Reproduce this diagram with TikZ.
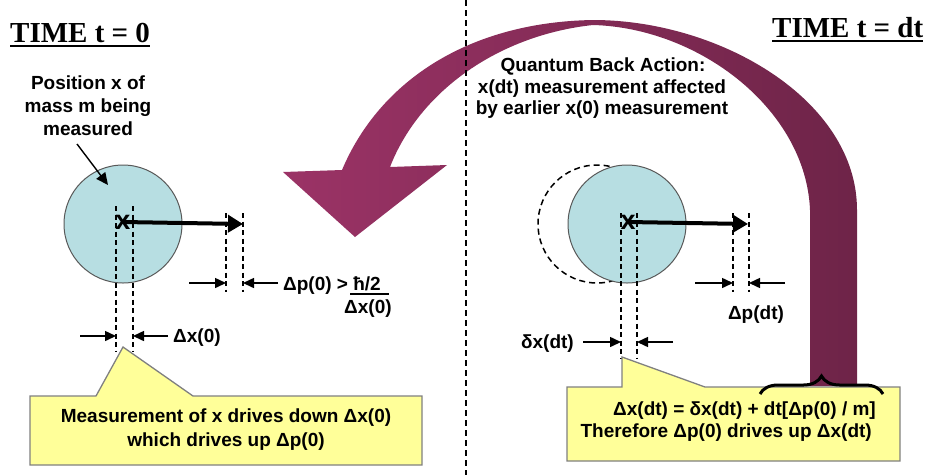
\documentclass[tikz,border=0pt]{standalone}
\usepackage{fontspec}
\setmainfont{Liberation Sans}
\newfontfamily\titlefont{Liberation Serif}
\usetikzlibrary{arrows.meta,decorations.pathreplacing,calc}
\definecolor{plumL}{HTML}{9B3366}
\definecolor{plumR}{HTML}{6E2448}
\definecolor{ballfill}{HTML}{B7DEE2}
\definecolor{noteyellow}{HTML}{FFFF99}
\begin{document}
\begin{tikzpicture}[x=1pt,y=-1pt,
  lbl/.style={font=\fontsize{19}{23}\selectfont\bfseries, inner sep=0pt},
  ttl/.style={font=\titlefont\fontsize{29}{34}\selectfont\bfseries, inner sep=0pt, anchor=base west},
  dashln/.style={dash pattern=on 5pt off 3.5pt, line width=1.5pt},
  dimarrow/.style={-{Triangle[length=11pt,width=10pt]}, line width=1.5pt},
  bigarrow/.style={-{Triangle[length=15pt,width=17pt]}, line width=4pt},
  ball/.style={circle, fill=ballfill, draw=gray!70!black, line width=1pt, minimum size=118pt, inner sep=0pt},
  ghost/.style={circle, draw, dash pattern=on 6pt off 4pt, line width=1.5pt, minimum size=118pt, inner sep=0pt},
  note/.style={fill=noteyellow, draw=gray, line width=1.3pt},
  bigx/.style={font=\fontsize{27}{27}\selectfont\bfseries, inner sep=0pt},
]
\useasboundingbox (0,0) rectangle (928,475);

% titles
\node[ttl] (t0) at (10,42) {TIME t = 0};
\draw[line width=2pt] ($(t0.base west)+(0,4)$) -- ($(t0.base east)+(0,4)$);
\node[ttl] (tdt) at (772,37) {TIME t = dt};
\draw[line width=2pt] ($(tdt.base west)+(0,4)$) -- ($(tdt.base east)+(0,4)$);

% big curved arrow
\shade[left color=plumL, right color=plumR]
 (810,386) -- (810,210) .. controls (806,110) and (700,28) .. (593,25)
 .. controls (500,35) and (420,90) .. (390,167)
 -- (447,165) -- (355,237) -- (283,172) -- (342,170)
 .. controls (380,80) and (470,22) .. (593,20)
 .. controls (720,20) and (857,100) .. (857,210) -- (857,386) -- cycle;

% divider
\draw[dash pattern=on 6pt off 4pt, line width=1.5pt] (466,0) -- (466,475);

% ---------- left: time 0 ----------
\node[lbl, anchor=base] (m1) at (88,89) {Position x of};
\node[lbl, anchor=base] (m2) at (88,112) {mass m being};
\node[lbl, anchor=base] (m3) at (88,135) {measured};
\node[ball] (b0) at (123,224) {};
\coordinate (ptr0) at (77,144);
\coordinate (ptr0tip) at (108,185);
\draw[-{Triangle[length=12pt,width=11pt]}, line width=1.4pt] (ptr0) -- (ptr0tip);

\draw[dashln] (116,206) -- (116,352);
\draw[dashln] (133,206) -- (133,352);
\node[bigx] (x0) at (123,222) {x};
\coordinate (mom0) at (243,224);
\draw[bigarrow] (x0.center) -- (mom0);

\draw[dashln] (226,213) -- (226,292);
\draw[dashln] (243,213) -- (243,292);
\coordinate (a1s) at (189,283); \coordinate (a1e) at (226,283);
\coordinate (a2s) at (278,283); \coordinate (a2e) at (243,283);
\draw[dimarrow] (a1s) -- (a1e);
\draw[dimarrow] (a2s) -- (a2e);
\node[lbl, anchor=base west] (dp0) at (283,290) {Δp(0) > ħ/2};
\node[lbl, anchor=base west] (dx0f) at (344,313) {Δx(0)};
\draw[line width=1.3pt] (350,294) -- (389,294);

\coordinate (a3s) at (80,336); \coordinate (a3e) at (116,336);
\coordinate (a4s) at (168,336); \coordinate (a4e) at (133,336);
\draw[dimarrow] (a3s) -- (a3e);
\draw[dimarrow] (a4s) -- (a4e);
\node[lbl, anchor=base west] (dx0) at (173,342) {Δx(0)};

% left callout
\draw[note] (30,396) -- (96,396) -- (123,347) -- (193,396) -- (422,396) -- (422,465) -- (30,465) -- cycle;
\node[lbl, anchor=base] (l1) at (226,422) {Measurement of x drives down Δx(0)};
\node[lbl, anchor=base] (l2) at (226,446) {which drives up Δp(0)};

% ---------- right: time dt ----------
\node[lbl, anchor=base] (q1) at (603,71) {Quantum Back Action:};
\node[lbl, anchor=base] (q2) at (602,93) {x(dt) measurement affected};
\node[lbl, anchor=base] (q3) at (602,114) {by earlier x(0) measurement};

\node[ghost] (g1) at (597,224) {};
\node[ball] (b1) at (627,224) {};
\draw[dashln] (621,213) -- (621,358);
\draw[dashln] (637,213) -- (637,358);
\node[bigx] (x1) at (628,222) {x};
\coordinate (mom1) at (748,224);
\draw[bigarrow] (x1.center) -- (mom1);

\draw[dashln] (733,213) -- (733,292);
\draw[dashln] (749,213) -- (749,292);
\coordinate (a5s) at (695,283); \coordinate (a5e) at (733,283);
\coordinate (a6s) at (785,283); \coordinate (a6e) at (749,283);
\draw[dimarrow] (a5s) -- (a5e);
\draw[dimarrow] (a6s) -- (a6e);
\node[lbl, anchor=base] (dpdt) at (756,319) {Δp(dt)};

\coordinate (a7s) at (583,342); \coordinate (a7e) at (621,342);
\coordinate (a8s) at (673,342); \coordinate (a8e) at (637,342);
\draw[dimarrow] (a7s) -- (a7e);
\draw[dimarrow] (a8s) -- (a8e);
\node[lbl, anchor=base east] (dxdt) at (574,348) {δx(dt)};

% right callout
\draw[note] (567,387) -- (622,387) -- (622,357) -- (705,387) -- (900,387) -- (900,461) -- (567,461) -- cycle;
\node[lbl, anchor=base east] (r1) at (876,415) {Δx(dt) = δx(dt) + dt[Δp(0) / m]};
\node[lbl, anchor=base east] (r2) at (872,437) {Therefore Δp(0) drives up Δx(dt)};
\coordinate (brL) at (760,394);
\coordinate (brR) at (883,394);
\draw[line width=3pt, decorate, decoration={brace, amplitude=18pt}] (brL) -- (brR);
\end{tikzpicture}
\end{document}
